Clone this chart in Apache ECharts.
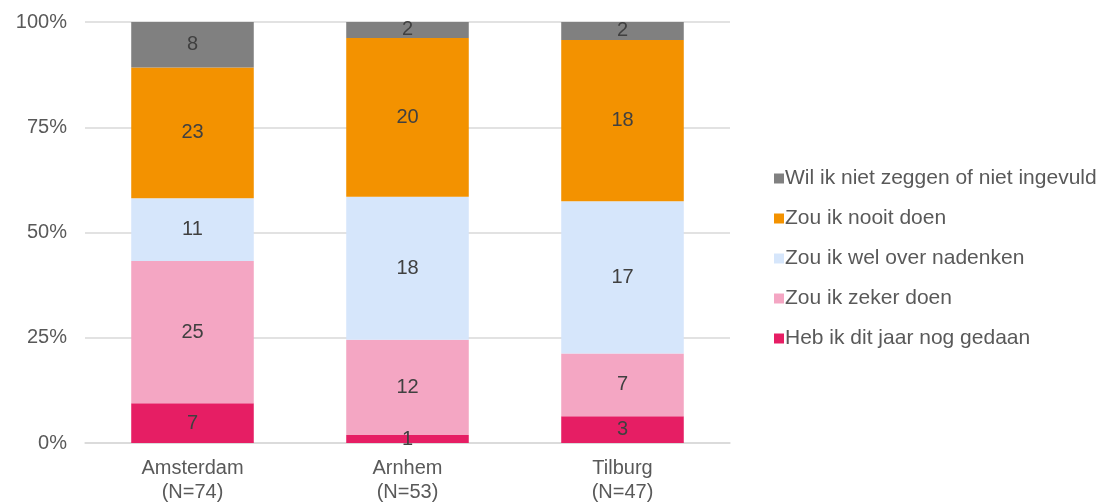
<!DOCTYPE html>
<html>
<head>
<meta charset="utf-8">
<script src="https://cdn.jsdelivr.net/npm/echarts@6/dist/echarts.min.js"></script>
<style>
  html, body { margin: 0; padding: 0; background: #fff; }
  #chart { width: 1107px; height: 503px; }
</style>
</head>
<body>
<div id="chart"></div>
<script>
// Steden en aantallen per antwoord
const steden = ['Amsterdam', 'Arnhem', 'Tilburg'];
const totalen = [74, 53, 47];
const yTicks = [0, 25, 50, 75, 100];

const antwoorden = [
    'Heb ik dit jaar nog gedaan',
    'Zou ik zeker doen',
    'Zou ik wel over nadenken',
    'Zou ik nooit doen',
    'Wil ik niet zeggen of niet ingevuld'
];
const gedaan = [7, 1, 3];
const zeker = [25, 12, 7];
const nadenken = [11, 18, 17];
const nooit = [23, 20, 18];
const nietGezegd = [8, 2, 2];

const kleuren = ['#E61E64', '#F4A6C3', '#D6E6FB', '#F39200', '#808080'];
const aantallen = [gedaan, zeker, nadenken, nooit, nietGezegd];

var chart = echarts.init(document.getElementById('chart'));

// Percentages voor de 100% stapeling, label toont het aantal
var series = antwoorden.map(function (naam, i) {
    return {
        name: naam,
        type: 'bar',
        stack: 'totaal',
        barWidth: '57%',
        itemStyle: { color: kleuren[i] },
        label: {
            show: true,
            position: 'inside',
            color: '#404040',
            fontSize: 20,
            fontFamily: 'Liberation Sans',
            formatter: function (p) { return aantallen[i][p.dataIndex]; }
        },
        data: aantallen[i].map(function (v, j) { return v / totalen[j] * 100; })
    };
});

var option = {
    animation: false,
    grid: { left: 85, right: 377, top: 22, bottom: 60, outerBoundsMode: 'none', containLabel: false },
    legend: {
        orient: 'vertical',
        left: 769,
        top: 163,
        itemWidth: 10,
        itemHeight: 10,
        itemGap: 19,
        icon: 'rect',
        data: antwoorden.slice().reverse(),
        textStyle: { color: '#595959', fontSize: 21, fontFamily: 'Liberation Sans', padding: [0, 0, 0, -4] }
    },
    xAxis: {
        type: 'category',
        data: steden.map(function (s, i) { return s + '\n(N=' + totalen[i] + ')'; }),
        axisTick: { show: false },
        axisLine: { lineStyle: { color: '#d9d9d9', width: 1.5 } },
        axisLabel: { color: '#595959', fontSize: 20, fontFamily: 'Liberation Sans', lineHeight: 24, margin: 13 }
    },
    yAxis: {
        type: 'value',
        min: yTicks[0],
        max: yTicks[yTicks.length - 1],
        interval: 25,
        axisLabel: { color: '#595959', fontSize: 20, fontFamily: 'Liberation Sans', formatter: '{value}%', margin: 18 },
        splitLine: { lineStyle: { color: '#d9d9d9', width: 1.5 } }
    },
    series: series
};

chart.setOption(option);
</script>
</body>
</html>
